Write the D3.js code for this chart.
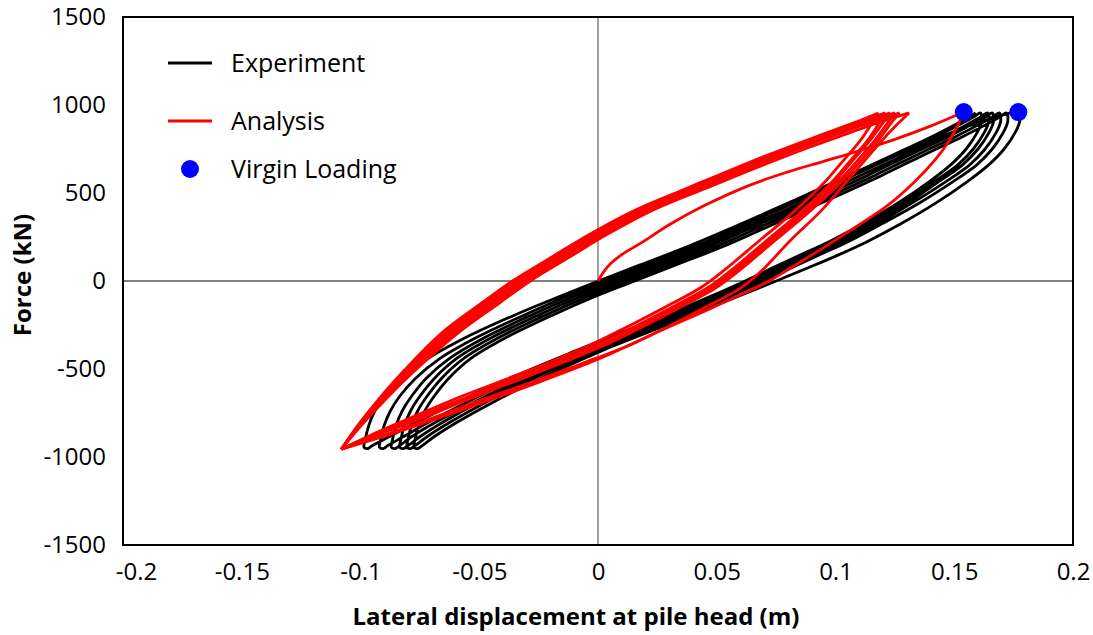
<!DOCTYPE html>
<html>
<head>
<meta charset="utf-8">
<script src="https://cdn.jsdelivr.net/npm/d3@7"></script>
<style>
  body { margin: 0; background: #fff; }
  text { font-family: 'Open Sans', sans-serif; fill: #000; }
</style>
</head>
<body>
<div id="chart"></div>
<script>
const width = 1093;
const height = 635;

// ticks
const xTicks = [-0.2, -0.15, -0.1, -0.05, 0, 0.05, 0.1, 0.15, 0.2];
const yTicks = [-1500, -1000, -500, 0, 500, 1000, 1500];

// Experiment: virgin loading (displacement m, force kN)
const expVirgin = [[0, 0], [0.012, 45], [0.025, 110], [0.042, 195], [0.063, 325], [0.084, 460],
  [0.105, 585], [0.122, 690], [0.14, 795], [0.155, 875], [0.166, 925], [0.173, 952], [0.177, 960]];

// Experiment unloading branches: force levels + displacement of each cycle
const expUnloadForce = [955, 905, 840, 750, 660, 565, 445, 325, 225, 150, 78, 0, -130, -265, -400, -540, -680, -800, -885, -935, -952];
const expUnloadDisp = [
  [0.177, 0.1775, 0.1755, 0.171, 0.1645, 0.1555, 0.1425, 0.1275, 0.1135, 0.1015, 0.089, 0.075, 0.051, 0.026, 0.001, -0.022, -0.043, -0.059, -0.069, -0.074, -0.076],
  [0.172, 0.1725, 0.1705, 0.166, 0.1595, 0.1495, 0.1355, 0.1195, 0.1055, 0.0935, 0.082, 0.070, 0.048, 0.023, -0.002, -0.025, -0.046, -0.062, -0.072, -0.077, -0.079],
  [0.169, 0.1695, 0.1675, 0.163, 0.1565, 0.1465, 0.1325, 0.1175, 0.1035, 0.0915, 0.080, 0.068, 0.046, 0.021, -0.004, -0.0275, -0.049, -0.065, -0.075, -0.080, -0.082],
  [0.166, 0.1665, 0.1645, 0.160, 0.1535, 0.1435, 0.1305, 0.1155, 0.1015, 0.0895, 0.078, 0.066, 0.044, 0.019, -0.006, -0.0295, -0.051, -0.068, -0.0785, -0.0835, -0.0855],
  [0.164, 0.1645, 0.1625, 0.158, 0.1515, 0.1415, 0.1285, 0.1135, 0.0995, 0.0875, 0.076, 0.064, 0.042, 0.017, -0.008, -0.032, -0.054, -0.071, -0.082, -0.0885, -0.0905],
  [0.161, 0.1615, 0.1595, 0.155, 0.1485, 0.1395, 0.1265, 0.1115, 0.0975, 0.0855, 0.074, 0.062, 0.040, 0.015, -0.010, -0.035, -0.058, -0.076, -0.088, -0.095, -0.097]
];

// Experiment reloading branches
const expReloadForce = [-945, -900, -820, -740, -655, -555, -440, -320, -190, -95, -15, 90, 200, 335, 470, 600, 725, 820, 890, 935, 955];
const expReloadDisp = [
  [-0.0775, -0.077, -0.0755, -0.073, -0.069, -0.063, -0.0535, -0.0385, -0.0185, -0.0025, 0.0125, 0.0325, 0.0535, 0.076, 0.0985, 0.1195, 0.1385, 0.1535, 0.1635, 0.1695, 0.172],
  [-0.0805, -0.080, -0.0785, -0.076, -0.072, -0.066, -0.0565, -0.0415, -0.0215, -0.0055, 0.0095, 0.0295, 0.0505, 0.073, 0.0955, 0.1165, 0.1355, 0.1505, 0.1605, 0.1665, 0.169],
  [-0.0835, -0.083, -0.0815, -0.079, -0.075, -0.069, -0.0595, -0.0445, -0.0245, -0.0085, 0.0065, 0.0265, 0.0475, 0.070, 0.0925, 0.1135, 0.1325, 0.1475, 0.1575, 0.1635, 0.166],
  [-0.087, -0.0865, -0.085, -0.0825, -0.0785, -0.0725, -0.0625, -0.0475, -0.0275, -0.0115, 0.0035, 0.0235, 0.0445, 0.0675, 0.090, 0.1105, 0.1305, 0.1455, 0.1555, 0.1615, 0.164],
  [-0.092, -0.0915, -0.090, -0.0875, -0.0835, -0.077, -0.0665, -0.051, -0.0305, -0.0145, 0.0005, 0.0205, 0.0415, 0.0645, 0.087, 0.1075, 0.1275, 0.1425, 0.1525, 0.1585, 0.161],
  [-0.0985, -0.098, -0.0965, -0.094, -0.0895, -0.0825, -0.0715, -0.0555, -0.0345, -0.0175, -0.0025, 0.0175, 0.0385, 0.062, 0.0845, 0.1055, 0.1255, 0.1405, 0.1505, 0.1565, 0.159]
];

// Analysis: virgin loading and first unloading
const anaVirgin = [[0, 0], [0.002, 45], [0.005, 95], [0.01, 150], [0.018, 215], [0.03, 320], [0.045, 430],
  [0.064, 545], [0.08, 620], [0.095, 680], [0.11, 740], [0.125, 805], [0.14, 880], [0.154, 960]];
const anaFirstUnload = [[0.154, 960], [0.152, 900], [0.148, 800], [0.142, 690], [0.133, 560], [0.122, 430],
  [0.11, 320], [0.095, 190], [0.08, 65], [0.072, 0], [0.05, -140], [0.025, -290], [0, -445],
  [-0.03, -600], [-0.06, -745], [-0.085, -860], [-0.108, -955]];

// Analysis reloading branches
const anaReloadForce = [-955, -815, -660, -520, -390, -275, -125, 0, 140, 262, 405, 530, 648, 760, 840, 900, 955];
const anaReloadDisp = [
  [-0.108, -0.0993, -0.0886, -0.078, -0.0673, -0.057, -0.0415, -0.0285, -0.0115, 0.0035, 0.0235, 0.046, 0.0675, 0.089, 0.1055, 0.118, 0.131],
  [-0.108, -0.1008, -0.0916, -0.0824, -0.0732, -0.064, -0.049, -0.036, -0.019, -0.004, 0.016, 0.038, 0.059, 0.080, 0.096, 0.108, 0.118],
  [-0.108, -0.1005, -0.091, -0.0815, -0.072, -0.0625, -0.0475, -0.0345, -0.0175, -0.0025, 0.0175, 0.0395, 0.0605, 0.0815, 0.0975, 0.1095, 0.121],
  [-0.108, -0.1002, -0.0904, -0.0806, -0.0708, -0.061, -0.046, -0.033, -0.016, -0.001, 0.019, 0.041, 0.062, 0.083, 0.099, 0.111, 0.123],
  [-0.108, -0.0999, -0.0898, -0.0797, -0.0696, -0.0595, -0.0445, -0.0315, -0.0145, 0.0005, 0.0205, 0.0425, 0.0635, 0.0845, 0.1005, 0.1125, 0.125],
  [-0.108, -0.0996, -0.0892, -0.0788, -0.0684, -0.058, -0.043, -0.030, -0.013, 0.002, 0.022, 0.044, 0.065, 0.086, 0.102, 0.1145, 0.127]
];

// Analysis unloading branches
const anaUnloadForce = [955, 890, 790, 680, 570, 400, 230, 60, -40, -150, -255, -355, -470, -575, -680, -790, -875, -955];
const anaUnloadDisp = [
  [0.131, 0.126, 0.119, 0.112, 0.105, 0.094, 0.081, 0.069, 0.060, 0.045, 0.03, 0.015, -0.007, -0.028, -0.05, -0.072, -0.09, -0.108],
  [0.118, 0.115, 0.110, 0.103, 0.096, 0.083, 0.068, 0.053, 0.043, 0.028, 0.013, -0.002, -0.022, -0.042, -0.062, -0.081, -0.0955, -0.108],
  [0.121, 0.118, 0.113, 0.106, 0.099, 0.086, 0.071, 0.056, 0.046, 0.031, 0.016, 0.001, -0.019, -0.039, -0.059, -0.079, -0.0945, -0.108],
  [0.123, 0.1195, 0.114, 0.107, 0.100, 0.087, 0.072, 0.057, 0.047, 0.032, 0.017, 0.002, -0.018, -0.038, -0.058, -0.078, -0.094, -0.108],
  [0.125, 0.1215, 0.116, 0.109, 0.1015, 0.088, 0.073, 0.058, 0.048, 0.033, 0.018, 0.003, -0.017, -0.037, -0.057, -0.077, -0.0935, -0.108],
  [0.127, 0.123, 0.1175, 0.1105, 0.103, 0.0895, 0.0745, 0.0595, 0.0495, 0.0345, 0.0195, 0.0045, -0.016, -0.036, -0.056, -0.076, -0.093, -0.108]
];

// Virgin loading peaks (analysis, experiment)
const virginPeaks = [[0.154, 960], [0.177, 960]];

const legendItems = [
  { label: 'Experiment', type: 'line', color: '#000000', y: 63 },
  { label: 'Analysis', type: 'line', color: '#ff0000', y: 121 },
  { label: 'Virgin Loading', type: 'dot', color: '#0000ff', y: 169 }
];

const svg = d3.select('#chart')
  .append('svg')
  .attr('width', width)
  .attr('height', height);

const xScale = d3.scaleLinear().domain([-0.2, 0.2]).range([123, 1073]);
const yScale = d3.scaleLinear().domain([-1500, 1500]).range([545, 17]);

// zero lines
svg.append('line')
  .attr('x1', xScale(0)).attr('x2', xScale(0))
  .attr('y1', yScale(1500)).attr('y2', yScale(-1500))
  .attr('stroke', '#808080').attr('stroke-width', 1.5);
svg.append('line')
  .attr('x1', xScale(-0.2)).attr('x2', xScale(0.2))
  .attr('y1', yScale(0)).attr('y2', yScale(0))
  .attr('stroke', '#000').attr('stroke-width', 1);

// axes
svg.append('g')
  .attr('transform', `translate(${xScale(-0.2)},0)`)
  .call(d3.axisLeft(yScale).tickValues(yTicks).tickSize(0).tickPadding(17).tickFormat(d => String(d)));
const xAxis = svg.append('g')
  .attr('transform', `translate(0,${yScale(-1500)})`)
  .call(d3.axisBottom(xScale).tickValues(xTicks).tickSize(0).tickPadding(18).tickFormat(d => String(d)));
svg.selectAll('.domain').remove();
svg.selectAll('.tick text')
  .attr('font-family', "'Open Sans', sans-serif")
  .attr('font-size', 24)
  .attr('fill', '#000');
xAxis.selectAll('.tick text').filter(d => d === -0.2).attr('dx', 13);

// curves
const line = d3.line()
  .x(d => xScale(d[0]))
  .y(d => yScale(d[1]))
  .curve(d3.curveCatmullRom.alpha(0.5));

const pair = (disp, force) => disp.map((v, i) => [v, force[i]]);

// experiment as one continuous path
let expPath = expVirgin.slice();
expUnloadDisp.forEach((u, k) => {
  expPath = expPath.concat(pair(u, expUnloadForce).slice(1));
  expPath = expPath.concat(pair(expReloadDisp[k], expReloadForce));
});
expPath = expPath.filter((p, i) => i === 0 || p[0] !== expPath[i - 1][0] || p[1] !== expPath[i - 1][1]);

svg.append('path')
  .attr('d', line(expPath))
  .attr('fill', 'none')
  .attr('stroke', '#000')
  .attr('stroke-width', 2.8)
  .attr('stroke-linejoin', 'round');

// analysis branches (sharp reversals)
const anaBranches = [anaVirgin, anaFirstUnload];
anaReloadDisp.forEach((r, k) => {
  anaBranches.push(pair(r, anaReloadForce));
  anaBranches.push(pair(anaUnloadDisp[k], anaUnloadForce));
});

svg.append('g').selectAll('path')
  .data(anaBranches)
  .enter()
  .append('path')
  .attr('d', d => line(d))
  .attr('fill', 'none')
  .attr('stroke', '#ff0000')
  .attr('stroke-width', 2.8)
  .attr('stroke-linejoin', 'round');

svg.append('g').selectAll('circle')
  .data(virginPeaks)
  .enter()
  .append('circle')
  .attr('cx', d => xScale(d[0]))
  .attr('cy', d => yScale(d[1]))
  .attr('r', 9)
  .attr('fill', '#0000ff');

// frame
svg.append('rect')
  .attr('x', xScale(-0.2)).attr('y', yScale(1500))
  .attr('width', xScale(0.2) - xScale(-0.2))
  .attr('height', yScale(-1500) - yScale(1500))
  .attr('fill', 'none').attr('stroke', '#000').attr('stroke-width', 2);

// legend
const legend = svg.append('g').attr('class', 'legend');
legendItems.forEach(item => {
  if (item.type === 'line') {
    legend.append('line')
      .attr('x1', 168).attr('x2', 212)
      .attr('y1', item.y).attr('y2', item.y)
      .attr('stroke', item.color).attr('stroke-width', 3);
  } else {
    legend.append('circle')
      .attr('cx', 190).attr('cy', item.y)
      .attr('r', 9).attr('fill', item.color);
  }
  legend.append('text')
    .attr('x', 231).attr('y', item.y)
    .attr('dy', '0.35em')
    .attr('font-size', 25)
    .text(item.label);
});

// axis titles
svg.append('text')
  .attr('x', 576).attr('y', 625)
  .attr('text-anchor', 'middle')
  .attr('font-size', 24)
  .attr('font-weight', 'bold')
  .text('Lateral displacement at pile head (m)');

svg.append('text')
  .attr('transform', 'translate(31,275) rotate(-90)')
  .attr('text-anchor', 'middle')
  .attr('font-size', 24)
  .attr('font-weight', 'bold')
  .text('Force (kN)');
</script>
</body>
</html>
